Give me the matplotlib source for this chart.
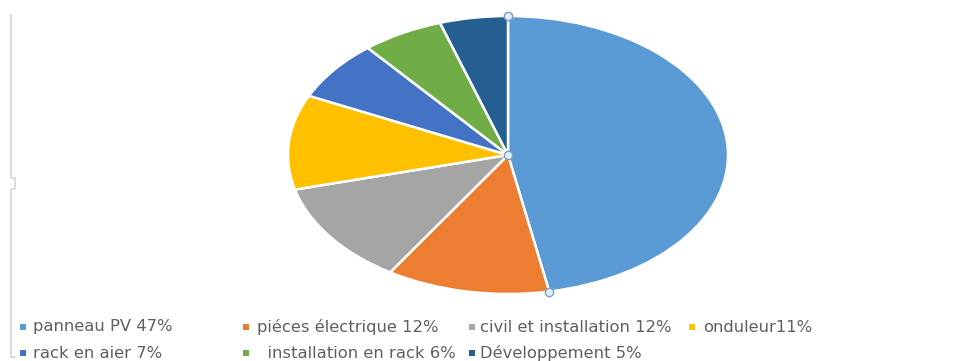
import matplotlib.pyplot as plt
import numpy as np
from matplotlib.patches import Rectangle
from matplotlib.lines import Line2D

labels = ["panneau PV 47%", "piéces électrique 12%", "civil et installation 12%",
          "onduleur11%", "rack en aier 7%", "  installation en rack 6%",
          "Développement 5%"]
values = [47, 12, 12, 11, 7, 6, 5]
colors = ["#5B9BD5", "#ED7D31", "#A5A5A5", "#FFC000", "#4472C4", "#70AD47", "#255E91"]

W, H = 963, 361
fig = plt.figure(figsize=(W / 100, H / 100), dpi=100)

# pie is stretched horizontally in the original, so no equal aspect
ax = fig.add_axes([288 / W, (H - 155 - 139) / H, 440 / W, 278 / H])
wedges, _ = ax.pie(values, colors=colors, startangle=90, counterclock=False,
                   radius=1, wedgeprops=dict(edgecolor="white", linewidth=1.8))
ax.set_aspect("auto")
ax.set_xlim(-1, 1)
ax.set_ylim(-1, 1)
ax.axis("off")

# selection handles of the first slice
w0 = wedges[0]
hx = [0] + [np.cos(np.radians(t)) for t in (w0.theta1, w0.theta2)]
hy = [0] + [np.sin(np.radians(t)) for t in (w0.theta1, w0.theta2)]
ax.plot(hx, hy, "o", ms=6, mfc="#dcefff", mec="#7f9db9", mew=1.0,
        clip_on=False, zorder=5)

# legend, 4 columns x 2 rows
marker_x = [20, 243, 469, 689]
text_x = [33, 257, 480, 703]
row_y = [327, 353]
for i, (lab, col) in enumerate(zip(labels, colors)):
    r, c = divmod(i, 4)
    y = 1 - row_y[r] / H
    fig.patches.append(Rectangle((marker_x[c] / W, y - 3 / H), 6 / W, 6 / H,
                                 transform=fig.transFigure, facecolor=col,
                                 edgecolor="none"))
    fig.text(text_x[c] / W, y, lab, fontsize=11.8, color="#5f5f5f",
             va="center", ha="left")

# left bracket line
bx = [11, 11, 15, 15, 11, 11, 15]
by = [15, 178, 178, 189, 189, 357, 357]
fig.lines.append(Line2D([v / W for v in bx], [1 - v / H for v in by],
                        transform=fig.transFigure, color="#d4d4d4", lw=1.2))

fig.savefig("out.png", dpi=100)
